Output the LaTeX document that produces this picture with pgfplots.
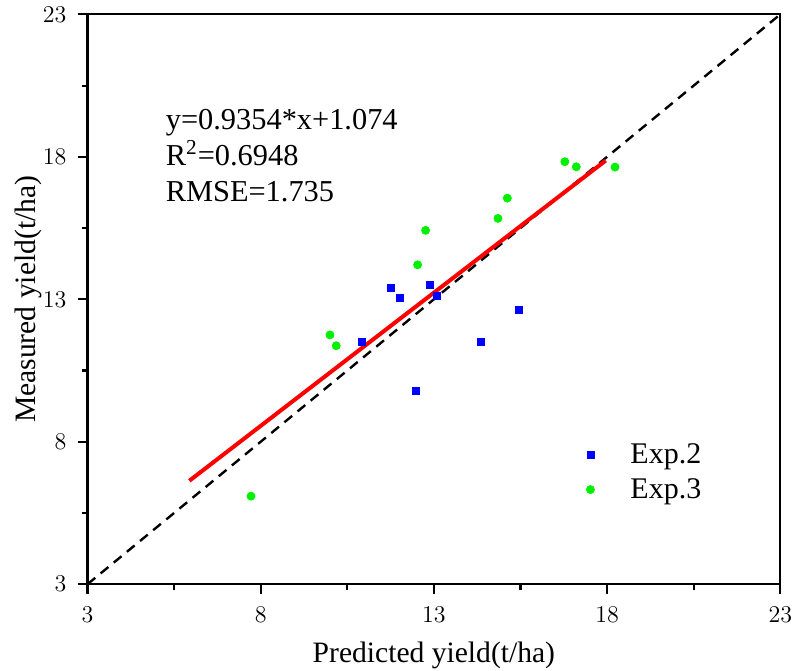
\documentclass[border=0pt]{standalone}
\usepackage{pgfplots}
\pgfplotsset{compat=1.18}
\usepackage{fontspec}
\setmainfont{Liberation Serif}
\definecolor{pblue}{RGB}{0,0,255}
\definecolor{pgreen}{RGB}{0,240,0}
\begin{document}
\begin{tikzpicture}
\begin{axis}[
  scale only axis,
  width=346.5pt, height=285pt,
  xmin=3, xmax=23, ymin=3, ymax=23,
  xtick={3,8,13,18,23}, ytick={3,8,13,18,23},
  minor xtick={5.5,10.5,15.5,20.5}, minor ytick={5.5,10.5,15.5,20.5},
  axis line style={line width=1.1pt},
  tick style={line width=1.1pt, black},
  tick align=outside,
  major tick length=5pt, minor tick length=3pt,
  xtick pos=bottom, ytick pos=left,
  ticklabel style={font=\fontsize{12}{14}\selectfont},
  xticklabel style={yshift=-3pt, inner xsep=0.5pt},
  yticklabel style={xshift=-2pt},
  xlabel={Predicted yield(t/ha)}, ylabel={Measured yield(t/ha)},
  label style={font=\fontsize{14.8}{17}\selectfont},
  xlabel style={yshift=-5pt, inner ysep=1pt},
  ylabel style={inner ysep=7.5pt, yshift=-10.5pt},
  legend style={draw=none, fill=none, at={(0.711,0.262)}, anchor=north west,
    font=\fontsize{15}{17}\selectfont, row sep=2pt,
    /tikz/every odd column/.append style={column sep=16pt}},
  legend cell align=left,
  clip=false,
]
\addplot[only marks, mark=square*, mark size=1.75pt, color=pblue] coordinates {
 (11.77,13.41) (12.03,13.04) (12.89,13.52) (13.08,13.11) (10.93,11.49)
 (12.49,9.80) (14.37,11.51) (15.44,12.62)
};
\addlegendentry{Exp.2}
\addplot[only marks, mark=*, mark size=2pt, color=pgreen] coordinates {
 (10.00,11.75) (10.18,11.37) (12.53,14.21) (12.76,15.42) (14.85,15.84)
 (15.12,16.55) (16.78,17.83) (17.11,17.65) (18.23,17.64) (7.72,6.09)
};
\addlegendentry{Exp.3}
\addplot[black, line width=1.2pt, dash pattern=on 5pt off 3.5pt, forget plot] coordinates {(3,3) (23,23)};
\addplot[red, line width=2pt, forget plot] coordinates {(5.94,6.63) (17.96,17.87)};
\node[anchor=west, align=left, font=\fontsize{15.2}{18}\selectfont, inner sep=0pt] at (axis cs:5.25,18.05)
 {y=0.9354*x+1.074\\R\textsuperscript{2}=0.6948\\RMSE=1.735};
\end{axis}
\end{tikzpicture}
\end{document}
